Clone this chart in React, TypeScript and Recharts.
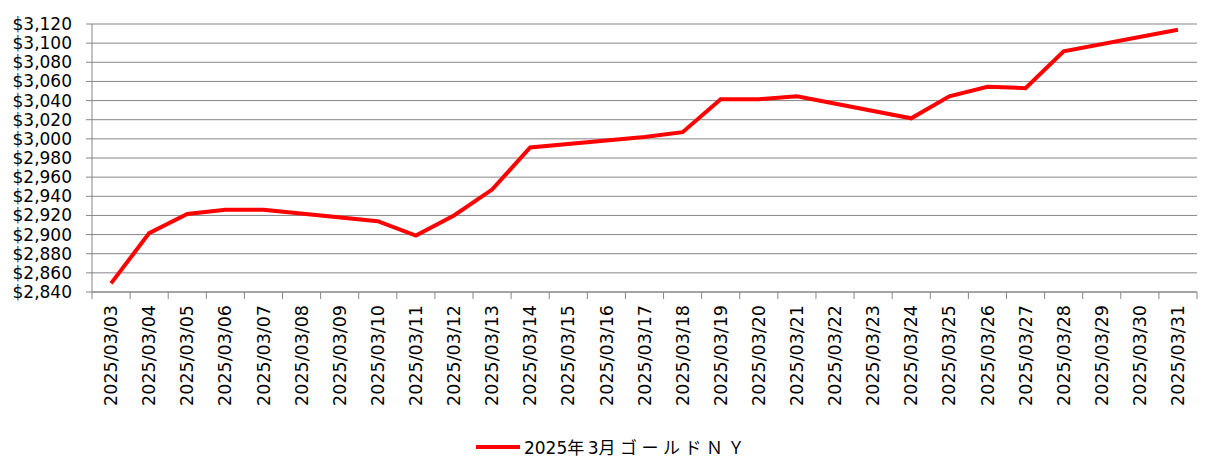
import React from 'react';
import { LineChart, Line, XAxis, YAxis, CartesianGrid, Legend } from 'recharts';

const dates = [
    '2025/03/03', '2025/03/04', '2025/03/05', '2025/03/06', '2025/03/07', '2025/03/08', '2025/03/09',
    '2025/03/10', '2025/03/11', '2025/03/12', '2025/03/13', '2025/03/14', '2025/03/15', '2025/03/16',
    '2025/03/17', '2025/03/18', '2025/03/19', '2025/03/20', '2025/03/21', '2025/03/22', '2025/03/23',
    '2025/03/24', '2025/03/25', '2025/03/26', '2025/03/27', '2025/03/28', '2025/03/29', '2025/03/30',
    '2025/03/31',
];

// weekends have no quote
const goldNY: (number | null)[] = [
    2849, 2901.5, 2921.5, 2926, 2926, null, null,
    2914, 2899, 2920, 2947, 2991, null, null,
    3002, 3007, 3041.5, 3041.5, 3044.5, null, null,
    3021.5, 3044.5, 3054.5, 3053, 3091.5, null, null,
    3114,
];

const yTicks = [2840, 2860, 2880, 2900, 2920, 2940, 2960, 2980, 3000, 3020, 3040, 3060, 3080, 3100, 3120];

const seriesName = '2025年3月ゴールドＮＹ';

const data = dates.map((d, i) => ({ date: d, price: goldNY[i] }));

const W = 1221;
const H = 471;
const PLOT_LEFT = 92;
const PLOT_RIGHT = 24;
const PLOT_W = W - PLOT_LEFT - PLOT_RIGHT;
const GRID = '#868686';
const FONT = '"DejaVu Sans", sans-serif';

const fmtDollar = (v: number) => '$' + v.toLocaleString('en-US');

const DateTick = (props: any) => {
    const { x, y, payload, index } = props;
    const bw = PLOT_W / dates.length;
    const ty = y + 13;
    return (
        <g>
            <line x1={x - bw / 2} x2={x - bw / 2} y1={y} y2={y + 7} stroke={GRID} />
            {index === dates.length - 1 && (
                <line x1={x + bw / 2} x2={x + bw / 2} y1={y} y2={y + 7} stroke={GRID} />
            )}
            <text
                x={x}
                y={ty}
                dy="0.35em"
                transform={`rotate(-90, ${x}, ${ty})`}
                textAnchor="end"
                fill="#000"
                fontSize={17.5}
                fontFamily={FONT}
            >
                {payload.value}
            </text>
        </g>
    );
};

const LegendBox = () => (
    <div style={{ display: 'flex', alignItems: 'center', justifyContent: 'center', height: 49, fontFamily: FONT, fontSize: 17, color: '#000' }}>
        <svg width={44} height={10} style={{ marginRight: 4, marginLeft: 28 }}>
            <line x1={0} x2={44} y1={5} y2={5} stroke="#FF0000" strokeWidth={4} />
        </svg>
        <span style={{ fontFamily: '"DejaVu Sans", "Noto Sans CJK JP", sans-serif' }}>
            2025<span style={{ letterSpacing: 3.5 }}>年</span>3<span style={{ letterSpacing: 4.5 }}>月ゴールドＮＹ</span>
        </span>
    </div>
);

export default function App() {
    return (
        <div style={{ position: 'absolute', left: 0, top: 0, background: '#fff' }}>
            <LineChart width={W} height={H} data={data} margin={{ top: 24, right: PLOT_RIGHT, left: 0, bottom: 0 }}>
                <CartesianGrid horizontal vertical={false} stroke={GRID} strokeWidth={1} />
                <XAxis
                    dataKey="date"
                    scale="band"
                    interval={0}
                    height={130}
                    tickSize={0}
                    tickMargin={0}
                    tickLine={false}
                    axisLine={{ stroke: GRID }}
                    tick={<DateTick />}
                />
                <YAxis
                    domain={[2840, 3120]}
                    ticks={yTicks}
                    width={PLOT_LEFT}
                    tickSize={6}
                    tickMargin={14}
                    tickFormatter={fmtDollar}
                    axisLine={{ stroke: GRID }}
                    tickLine={{ stroke: GRID }}
                    tick={{ fill: '#000', fontSize: 17, fontFamily: FONT }}
                    interval={0}
                />
                <Legend verticalAlign="bottom" height={49} content={<LegendBox />} />
                <Line
                    type="linear"
                    dataKey="price"
                    name={seriesName}
                    stroke="#FF0000"
                    strokeWidth={4}
                    dot={false}
                    connectNulls
                    isAnimationActive={false}
                />
            </LineChart>
        </div>
    );
}
